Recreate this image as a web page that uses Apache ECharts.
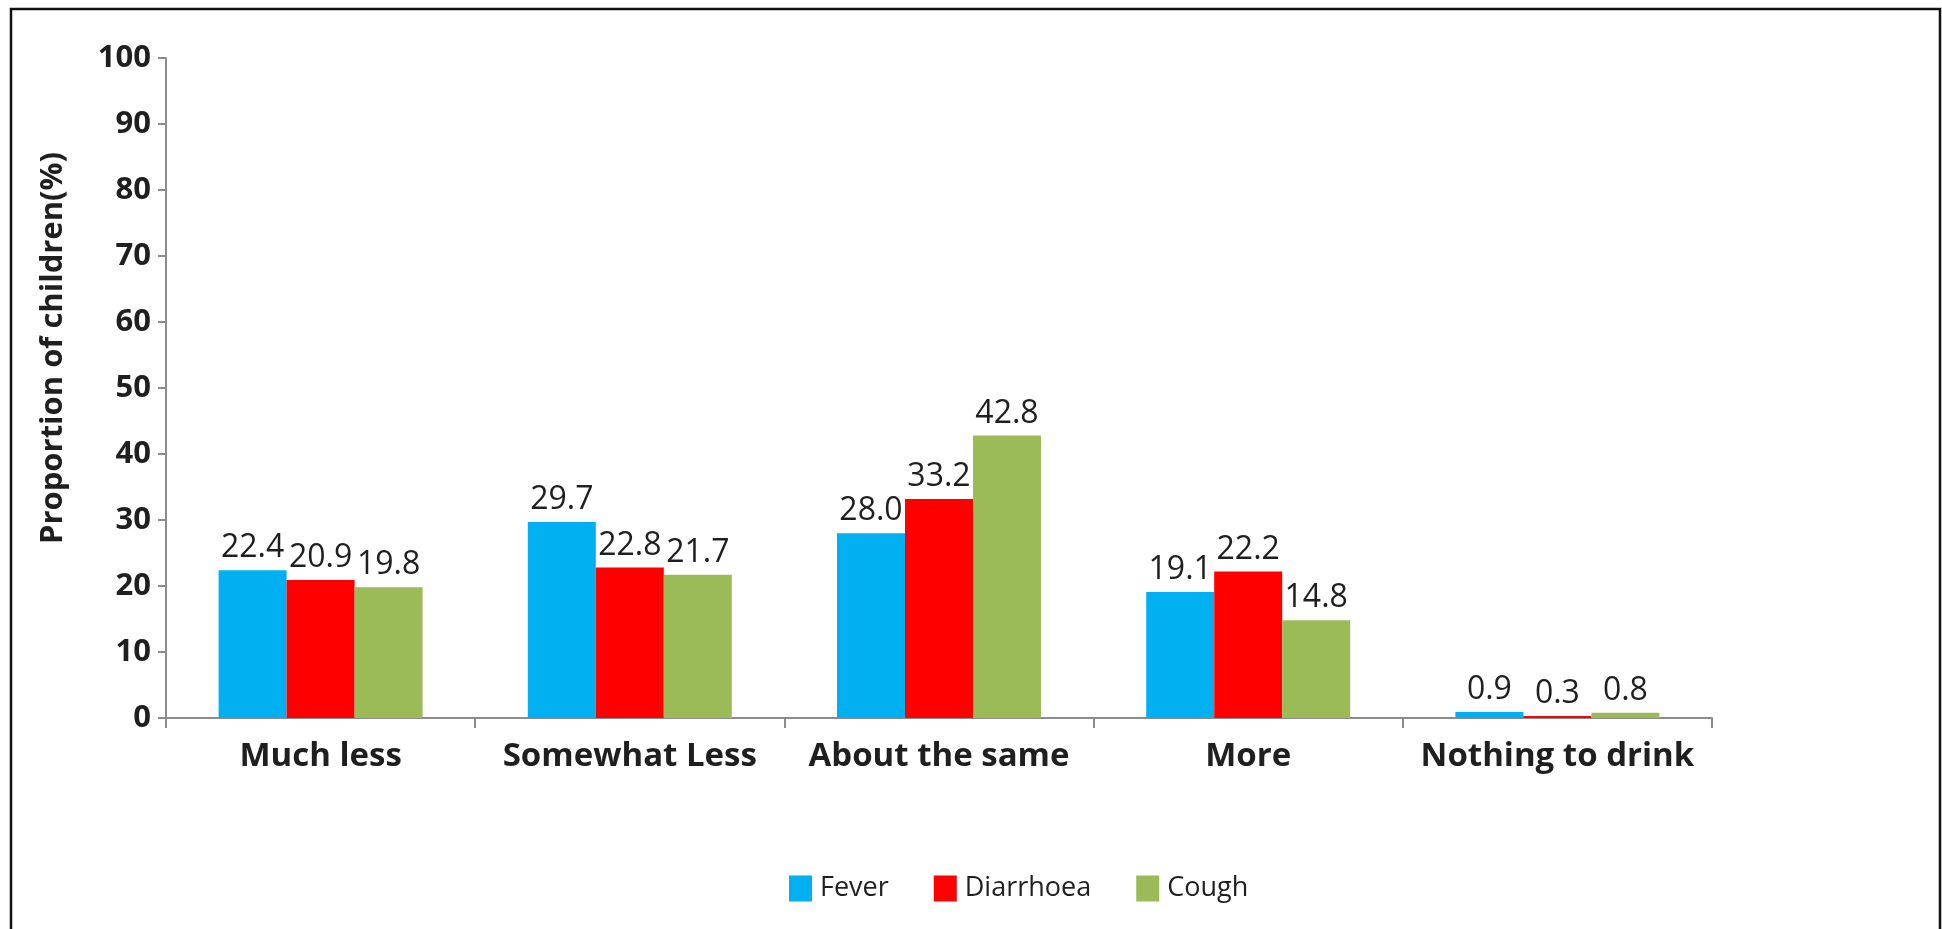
<!DOCTYPE html>
<html>
<head>
<meta charset="utf-8">
<style>
  html, body { margin: 0; padding: 0; background: #fff; }
  #chart { width: 1942px; height: 929px; }
</style>
<script src="https://cdn.jsdelivr.net/npm/echarts@6/dist/echarts.min.js"></script>
</head>
<body>
<div id="chart"></div>
<script>
const categories = ['Much less', 'Somewhat Less', 'About the same', 'More', 'Nothing to drink'];
const fever = [22.4, 29.7, 28.0, 19.1, 0.9];
const diarrhoea = [20.9, 22.8, 33.2, 22.2, 0.3];
const cough = [19.8, 21.7, 42.8, 14.8, 0.8];
const yTicks = [0, 10, 20, 30, 40, 50, 60, 70, 80, 90, 100];

const FONT = '"Open Sans"';
const TXT = '#1f1f1f';

const chart = echarts.init(document.getElementById('chart'), null, { renderer: 'canvas' });

function series(name, data, color) {
  return {
    name: name,
    type: 'bar',
    data: data,
    barWidth: 68,
    barGap: '0%',
    itemStyle: { color: color },
    label: {
      show: true,
      position: 'top',
      distance: 6,
      formatter: p => p.value.toFixed(1),
      fontFamily: FONT,
      fontSize: 32,
      color: TXT
    }
  };
}

chart.setOption({
  animation: false,
  backgroundColor: '#ffffff',
  grid: { left: 166, right: 230, top: 58, bottom: 211, containLabel: false },
  legend: {
    bottom: 22,
    left: 784,
    itemWidth: 23,
    itemHeight: 26,
    itemGap: 45,
    icon: 'rect',
    textStyle: { fontFamily: FONT, fontSize: 27, color: TXT, padding: [0, 0, 0, 3] },
    data: ['Fever', 'Diarrhoea', 'Cough']
  },
  xAxis: {
    type: 'category',
    data: categories,
    axisLine: { lineStyle: { color: '#8c8c8c', width: 2 } },
    axisTick: { show: true, interval: 0, length: 10, lineStyle: { color: '#8c8c8c', width: 2 } },
    axisLabel: { interval: 0, fontFamily: FONT, fontWeight: 'bold', fontSize: 33, color: TXT, margin: 22 }
  },
  yAxis: {
    type: 'value',
    min: 0,
    max: 100,
    interval: 10,
    splitLine: { show: false },
    axisLine: { show: true, lineStyle: { color: '#8c8c8c', width: 2 } },
    axisTick: { show: true, length: 8, lineStyle: { color: '#8c8c8c', width: 2 } },
    axisLabel: {
      fontFamily: FONT, fontWeight: 'bold', fontSize: 31, color: TXT, margin: 15,
      formatter: v => yTicks.includes(v) ? String(v) : ''
    }
  },
  graphic: [
    {
      type: 'rect',
      shape: { x: 11, y: 9, width: 1929, height: 960 },
      style: { fill: 'none', stroke: '#111', lineWidth: 2.5 },
      silent: true
    },
    {
      type: 'text',
      x: 53,
      y: 348,
      rotation: Math.PI / 2,
      style: {
        text: 'Proportion of children(%)',
        fontFamily: FONT,
        fontWeight: 'bold',
        fontSize: 31,
        fill: TXT,
        align: 'center',
        verticalAlign: 'middle'
      }
    }
  ],
  series: [
    series('Fever', fever, '#00B0F0'),
    series('Diarrhoea', diarrhoea, '#FF0000'),
    series('Cough', cough, '#9BBB59')
  ]
});
</script>
</body>
</html>
